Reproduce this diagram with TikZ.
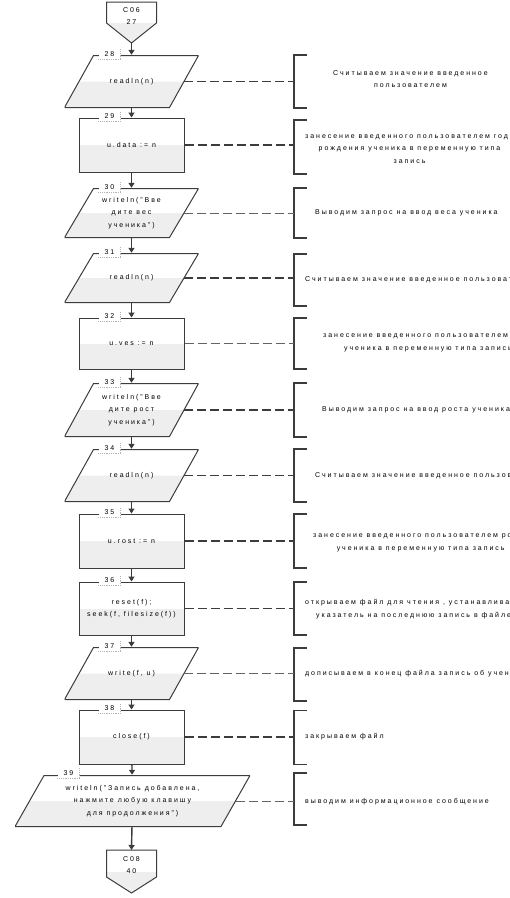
\documentclass[tikz,border=0pt]{standalone}
\usepackage{fontspec}
\setmainfont{Liberation Sans}[LetterSpace=28]
\usetikzlibrary{arrows.meta, positioning}
\definecolor{shapeline}{HTML}{3C3C3C}
\definecolor{lowfill}{HTML}{EEEEEE}
\definecolor{tagline}{HTML}{B4B4B4}
\tikzset{
    chart/.style={x=1pt, y=-1pt, font=\fontsize{7}{12.5}\selectfont, text=black},
    half fill/.style={path picture={\fill[lowfill]
        (path picture bounding box.west) rectangle (path picture bounding box.south east);}},
    procbox/.style={rectangle, draw=shapeline, line width=1pt, half fill, align=center,
        minimum width=105pt, minimum height=54pt, inner sep=1pt},
    % parallelogram drawn inside its own bounding rectangle, slant 29pt
    iobox/.style={rectangle, align=center, inner sep=1pt,
        minimum width=134pt, minimum height=53pt,
        path picture={
            \fill[lowfill] ([yshift=0.5pt]path picture bounding box.south west)
                -- ([xshift=-29pt, yshift=0.5pt]path picture bounding box.south east)
                -- ([xshift=-14.5pt]path picture bounding box.east)
                -- ([xshift=14.5pt]path picture bounding box.west) -- cycle;
            \draw[shapeline, line width=1pt] ([yshift=0.5pt]path picture bounding box.south west)
                -- ([xshift=-29pt, yshift=0.5pt]path picture bounding box.south east)
                -- ([yshift=-0.5pt]path picture bounding box.north east)
                -- ([xshift=29pt, yshift=-0.5pt]path picture bounding box.north west) -- cycle;
        }},
    pageconn/.style={draw=shapeline, line width=1pt, half fill},
    flow arrow/.style={-{Triangle[width=6pt, length=5pt]}, shapeline, line width=1.4pt},
    note link/.style={shapeline, line width=1.8pt, dash pattern=on 9pt off 4pt},
    faint link/.style={shapeline!80, line width=0.9pt, dash pattern=on 9pt off 4pt},
    bracketbox/.style={minimum width=13pt, inner sep=0pt},
    bracket line/.style={shapeline, line width=1.5pt},
    tag edge/.style={draw=tagline, densely dotted, line width=0.8pt},
    steptag/.style={fill=white, inner sep=0pt, minimum width=22pt, minimum height=10pt,
        append after command={(\tikzlastnode.south west) edge[tag edge] (\tikzlastnode.south east)
            (\tikzlastnode.south east) edge[tag edge] (\tikzlastnode.north east)}},
    note/.style={anchor=west, align=center, inner sep=0pt},
}

\begin{document}
\begin{tikzpicture}[chart]
    \useasboundingbox (0,0) rectangle (510,898);
    \clip (0,0) rectangle (510,898);

    % page connectors
    \draw[pageconn] (106.5,2) -- (156.5,2) -- (156.5,23) -- (131.5,43) -- (106.5,23) -- cycle;
    \node[align=center] (c06) at (131.5,16) {C06\\27};
    \coordinate (c06tip) at (131.5,43);

    \draw[pageconn] (106.5,850) -- (156.5,850) -- (156.5,877) -- (131.5,893) -- (106.5,877) -- cycle;
    \node[align=center] (c08) at (131.5,865) {C08\\40};
    \coordinate (c08top) at (131.5,850);

    % flow blocks
    \node[iobox] (b28) at (131.5,81.5) {readln(n)};
    \node[procbox] (b29) at (131.5,145) {u.data := n};
    \node[iobox, minimum height=50pt] (b30) at (131.5,213) {writeln("Вве\\дите вес\\ученика")};
    \node[iobox, minimum height=50pt] (b31) at (131.5,278) {readln(n)};
    \node[procbox, minimum height=51pt] (b32) at (131.5,343.5) {u.ves := n};
    \node[iobox, minimum height=54pt] (b33) at (131.5,410) {writeln("Вве\\дите рост\\ученика")};
    \node[iobox] (b34) at (131.5,475.5) {readln(n)};
    \node[procbox] (b35) at (131.5,541) {u.rost := n};
    \node[procbox, minimum height=53pt] (b36) at (131.5,608.5) {reset(f);\\seek(f, filesize(f))};
    \node[iobox] (b37) at (131.5,673.5) {write(f, u)};
    \node[procbox] (b38) at (131.5,737) {close(f)};
    \node[iobox, minimum width=235pt, minimum height=52pt] (b39) at (132.5,801)
        {writeln("Запись добавлена,\\нажмите любую клавишу\\для продолжения")};

    % step numbers
    \node[steptag] (t28) at ([xshift=-22pt, yshift=1pt]b28.north) {28};
    \node[steptag] (t29) at ([xshift=-22pt, yshift=1pt]b29.north) {29};
    \node[steptag] (t30) at ([xshift=-22pt, yshift=1pt]b30.north) {30};
    \node[steptag] (t31) at ([xshift=-22pt, yshift=1pt]b31.north) {31};
    \node[steptag] (t32) at ([xshift=-22pt, yshift=1pt]b32.north) {32};
    \node[steptag] (t33) at ([xshift=-22pt, yshift=1pt]b33.north) {33};
    \node[steptag] (t34) at ([xshift=-22pt, yshift=1pt]b34.north) {34};
    \node[steptag] (t35) at ([xshift=-22pt, yshift=1pt]b35.north) {35};
    \node[steptag] (t36) at ([xshift=-22pt, yshift=1pt]b36.north) {36};
    \node[steptag] (t37) at ([xshift=-22pt, yshift=1pt]b37.north) {37};
    \node[steptag] (t38) at ([xshift=-22pt, yshift=1pt]b38.north) {38};
    \node[steptag] (t39) at ([xshift=-64pt, yshift=2pt]b39.north) {39};

    % flow
    \draw[flow arrow] (c06tip) -- (b28);
    \draw[flow arrow] (b28) -- (b29);
    \draw[flow arrow] (b29) -- (b30);
    \draw[flow arrow] (b30) -- (b31);
    \draw[flow arrow] (b31) -- (b32);
    \draw[flow arrow] (b32) -- (b33);
    \draw[flow arrow] (b33) -- (b34);
    \draw[flow arrow] (b34) -- (b35);
    \draw[flow arrow] (b35) -- (b36);
    \draw[flow arrow] (b36) -- (b37);
    \draw[flow arrow] (b37) -- (b38);
    \draw[flow arrow] (b38) -- (b39);
    \draw[flow arrow] (b39) -- (c08top);

    % comment brackets
    \node[bracketbox, minimum height=53pt] (k28) at (300.5,81.5) {};
    \node[bracketbox, minimum height=54pt] (k29) at (300.5,147) {};
    \node[bracketbox, minimum height=50pt] (k30) at (300.5,213) {};
    \node[bracketbox, minimum height=52pt] (k31) at (300.5,280) {};
    \node[bracketbox, minimum height=51pt] (k32) at (300.5,343.5) {};
    \node[bracketbox, minimum height=54pt] (k33) at (300.5,410) {};
    \node[bracketbox, minimum height=53pt] (k34) at (300.5,475.5) {};
    \node[bracketbox, minimum height=54pt] (k35) at (300.5,541) {};
    \node[bracketbox, minimum height=53pt] (k36) at (300.5,608.5) {};
    \node[bracketbox, minimum height=53pt] (k37) at (300.5,674.5) {};
    \node[bracketbox, minimum height=54pt] (k38) at (300.5,737.5) {};
    \node[bracketbox, minimum height=52pt] (k39) at (300.5,799) {};

    \draw[bracket line] (k28.north east) -- (k28.north west) -- (k28.south west) -- (k28.south east);
    \draw[bracket line] (k29.north east) -- (k29.north west) -- (k29.south west) -- (k29.south east);
    \draw[bracket line] (k30.north east) -- (k30.north west) -- (k30.south west) -- (k30.south east);
    \draw[bracket line] (k31.north east) -- (k31.north west) -- (k31.south west) -- (k31.south east);
    \draw[bracket line] (k32.north east) -- (k32.north west) -- (k32.south west) -- (k32.south east);
    \draw[bracket line] (k33.north east) -- (k33.north west) -- (k33.south west) -- (k33.south east);
    \draw[bracket line] (k34.north east) -- (k34.north west) -- (k34.south west) -- (k34.south east);
    \draw[bracket line] (k35.north east) -- (k35.north west) -- (k35.south west) -- (k35.south east);
    \draw[bracket line] (k36.north east) -- (k36.north west) -- (k36.south west) -- (k36.south east);
    \draw[bracket line] (k37.north east) -- (k37.north west) -- (k37.south west) -- (k37.south east);
    \draw[bracket line] (k38.north east) -- (k38.north west) -- (k38.south west) -- (k38.south east);
    \draw[bracket line] (k39.north east) -- (k39.north west) -- (k39.south west) -- (k39.south east);

    \draw[note link] ([xshift=-14.5pt]b28.east) -- (k28.west |- b28.east);
    \draw[note link] (b29.east) -- (k29.west |- b29.east);
    \draw[faint link] ([xshift=-14.5pt]b30.east) -- (k30.west |- b30.east);
    \draw[note link] ([xshift=-14.5pt]b31.east) -- (k31.west |- b31.east);
    \draw[faint link] (b32.east) -- (k32.west |- b32.east);
    \draw[note link] ([xshift=-14.5pt]b33.east) -- (k33.west |- b33.east);
    \draw[note link] ([xshift=-14.5pt]b34.east) -- (k34.west |- b34.east);
    \draw[note link] (b35.east) -- (k35.west |- b35.east);
    \draw[note link] (b36.east) -- (k36.west |- b36.east);
    \draw[faint link] ([xshift=-14.5pt]b37.east) -- (k37.west |- b37.east);
    \draw[note link] (b38.east) -- (k38.west |- b38.east);
    \draw[faint link] ([xshift=-14pt]b39.east) -- (k39.west |- b39.east);

    % comments
    \node[note] (n28) at (333,79) {Считываем значение введенное\\пользователем};
    \node[note] (n29) at (305,149) {занесение введенного пользователем года\\рождения ученика в переменную типа\\запись};
    \node[note] (n30) at (315,213) {Выводим запрос на ввод веса ученика};
    \node[note] (n31) at (305,280) {Считываем значение введенное пользователем};
    \node[note] (n32) at (323,343) {занесение введенного пользователем веса\\ученика в переменную типа запись};
    \node[note] (n33) at (322,410) {Выводим запрос на ввод роста ученика};
    \node[note] (n34) at (315,476) {Считываем значение введенное пользователем};
    \node[note] (n35) at (313,543) {занесение введенного пользователем роста\\ученика в переменную типа запись};
    \node[note] (n36) at (305,609) {открываем файл для чтения , устанавливаем\\указатель на последнюю запись в файле};
    \node[note] (n37) at (305,674) {дописываем в конец файла запись об ученике};
    \node[note] (n38) at (305,737) {закрываем файл};
    \node[note] (n39) at (305,802) {выводим информационное сообщение};
\end{tikzpicture}
\end{document}
